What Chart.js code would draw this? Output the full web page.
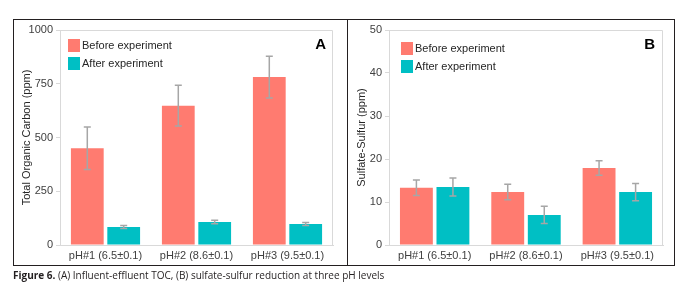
<!DOCTYPE html>
<html>
<head>
<meta charset="utf-8">
<script src="https://cdn.jsdelivr.net/npm/chart.js@4"></script>
<style>
  body { margin: 0; background: #fff; width: 691px; height: 288px; position: relative; overflow: hidden; }
  .frame { position: absolute; left: 13px; top: 19px; width: 662px; height: 247px; border: 1px solid #231f20; box-sizing: border-box; }
  .divider { position: absolute; left: 347px; top: 19px; width: 1px; height: 247px; background: #231f20; }
  .wrap { position: absolute; }
  #wrapA { left: 14px; top: 20px; width: 333px; height: 262px; }
  #wrapB { left: 348px; top: 20px; width: 326px; height: 262px; }
  .caption { position: absolute; left: 13px; top: 268px; font-family: "Open Sans", sans-serif; font-size: 10px; color: #231f20; white-space: nowrap; background: #fff; }
  .caption b { font-weight: 700; }
</style>
</head>
<body>
<div class="wrap" id="wrapA"><canvas id="chartA"></canvas></div>
<div class="wrap" id="wrapB"><canvas id="chartB"></canvas></div>
<div class="frame"></div>
<div class="divider"></div>
<div class="caption"><b>Figure 6.</b> (A) Influent-effluent TOC, (B) sulfate-sulfur reduction at three pH levels</div>

<script>
// --- Data ---
const categories = ['pH#1 (6.5±0.1)', 'pH#2 (8.6±0.1)', 'pH#3 (9.5±0.1)'];
const seriesNames = ['Before experiment', 'After experiment'];

// Panel A: Total Organic Carbon (ppm)
const tocBefore = [450, 648, 781];
const tocBeforeErr = [99, 95, 97];
const tocAfter = [84, 107, 98];
const tocAfterErr = [7, 8, 7];

// Panel B: Sulfate-Sulfur (ppm)
const sulfBefore = [13.3, 12.3, 17.9];
const sulfBeforeErr = [1.8, 1.8, 1.7];
const sulfAfter = [13.5, 7.0, 12.3];
const sulfAfterErr = [2.1, 2.0, 2.0];

const colBefore = '#ff7b70';
const colAfter = '#00bfc4';
const fontFam = '"Liberation Sans", Arial, sans-serif';

// --- Plugins ---
// error bars, drawn through the bar elements / y scale
const errorBars = {
    id: 'errorBars',
    afterDatasetsDraw(chart) {
        const ctx = chart.ctx;
        const y = chart.scales.y;
        ctx.save();
        ctx.strokeStyle = '#a6a6a6';
        ctx.lineWidth = 1.5;
        chart.data.datasets.forEach((ds, i) => {
            const meta = chart.getDatasetMeta(i);
            meta.data.forEach((bar, j) => {
                const v = ds.data[j], e = ds.errors[j];
                const top = y.getPixelForValue(v + e);
                const bot = y.getPixelForValue(v - e);
                const x = bar.x;
                ctx.beginPath();
                ctx.moveTo(x, top); ctx.lineTo(x, bot);
                ctx.moveTo(x - 3.5, top); ctx.lineTo(x + 3.5, top);
                ctx.moveTo(x - 3.5, bot); ctx.lineTo(x + 3.5, bot);
                ctx.stroke();
            });
        });
        ctx.restore();
    }
};

// plot frame, inside legend and panel letter
const decor = {
    id: 'decor',
    afterDraw(chart, args, opts) {
        const ctx = chart.ctx;
        const a = chart.chartArea;
        ctx.save();
        ctx.strokeStyle = '#d9d9d9';
        ctx.lineWidth = 1;
        ctx.beginPath();
        ctx.moveTo(a.left, a.top + 0.5); ctx.lineTo(a.right - 0.5, a.top + 0.5);
        ctx.lineTo(a.right - 0.5, a.bottom);
        ctx.stroke();

        // legend
        ctx.font = '11px ' + fontFam;
        ctx.textBaseline = 'middle';
        chart.data.datasets.forEach((ds, i) => {
            const bx = a.left + opts.legendX;
            const by = a.top + opts.legendY + i * 18;
            ctx.fillStyle = ds.backgroundColor;
            ctx.fillRect(bx, by, 12, 13);
            ctx.fillStyle = '#262626';
            ctx.fillText(ds.label, bx + 14, by + 6.5);
        });

        // panel letter
        ctx.font = 'bold 15px ' + fontFam;
        ctx.fillStyle = '#000';
        ctx.textAlign = 'right';
        ctx.fillText(opts.letter, a.right - opts.letterDx, a.top + 15);
        ctx.restore();
    }
};

function makeChart(id, before, beforeErr, after, afterErr, yMax, yStep, yTitle, letter, pad, yWidth, legendX, legendY, letterDx) {
    const ctx = document.getElementById(id).getContext('2d');
    return new Chart(ctx, {
        type: 'bar',
        data: {
            labels: categories,
            datasets: [{
                label: seriesNames[0],
                data: before,
                errors: beforeErr,
                backgroundColor: colBefore
            }, {
                label: seriesNames[1],
                data: after,
                errors: afterErr,
                backgroundColor: colAfter
            }]
        },
        options: {
            responsive: true,
            maintainAspectRatio: false,
            animation: false,
            layout: { padding: pad },
            scales: {
                x: {
                    categoryPercentage: 0.48,
                    barPercentage: 1,
                    grid: { display: false, drawTicks: false, tickLength: 0 },
                    border: { color: '#d9d9d9' },
                    ticks: { color: '#404040', font: { family: fontFam, size: 11 }, padding: 4, maxRotation: 0 },
                    afterFit: (s) => { s.height = 20; }
                },
                y: {
                    min: 0,
                    max: yMax,
                    ticks: { stepSize: yStep, color: '#404040', font: { family: fontFam, size: 11 }, padding: 3,
                             callback: (v) => String(v) },
                    grid: { drawOnChartArea: false, drawTicks: true, tickLength: 4, color: '#d9d9d9' },
                    border: { color: '#d9d9d9' },
                    title: { display: true, text: yTitle, color: '#262626', font: { family: fontFam, size: 11 }, padding: 0 },
                    afterFit: (s) => { s.width = yWidth; }
                }
            },
            plugins: {
                legend: { display: false },
                tooltip: { enabled: false },
                decor: { letter: letter, legendX: legendX, legendY: legendY, letterDx: letterDx }
            }
        },
        plugins: [errorBars, decor]
    });
}

makeChart('chartA', tocBefore, tocBeforeErr, tocAfter, tocAfterErr, 1000, 250,
    'Total Organic Carbon (ppm)', 'A', { left: 6, right: 14, top: 10, bottom: 17 }, 40, 8, 9, 7);
makeChart('chartB', sulfBefore, sulfBeforeErr, sulfAfter, sulfAfterErr, 50, 10,
    'Sulfate-Sulfur (ppm)', 'B', { left: 7, right: 11, top: 10, bottom: 17 }, 34, 12, 12, 8);
</script>
</body>
</html>
